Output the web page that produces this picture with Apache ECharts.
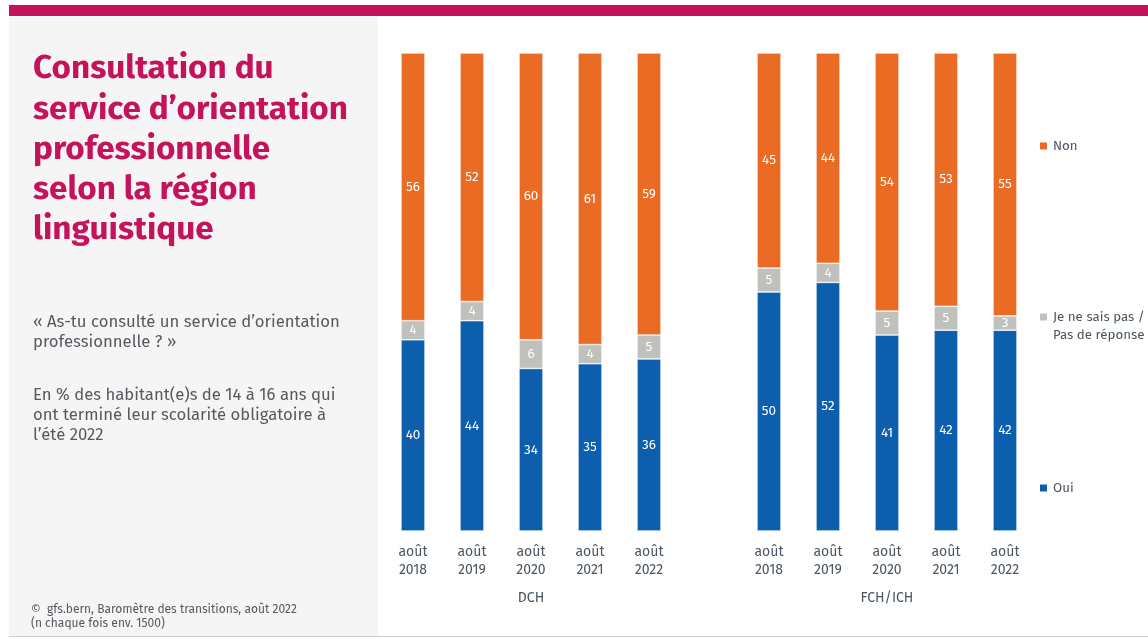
<!DOCTYPE html>
<html>
<head>
<meta charset="utf-8">
<script src="https://cdn.jsdelivr.net/npm/echarts@6/dist/echarts.min.js"></script>
<style>
html,body{margin:0;padding:0;background:#fff;}
#chart{width:1148px;height:639px;}
</style>
</head>
<body>
<div id="chart"></div>
<script>
// Survey years (category axis)
const years = ['août\n2018', 'août\n2019', 'août\n2020', 'août\n2021', 'août\n2022'];
const regions = ['DCH', 'FCH/ICH'];
const seriesNames = ['Oui', 'Je ne sais pas /\nPas de réponse', 'Non'];

// Shares in % per region, bottom to top
const dchOui = [40, 44, 34, 35, 36];
const dchNsp = [4, 4, 6, 4, 5];
const dchNon = [56, 52, 60, 61, 59];
const fchOui = [50, 52, 41, 42, 42];
const fchNsp = [5, 4, 5, 5, 3];
const fchNon = [45, 44, 54, 53, 55];

const colors = ['#0d5fae', '#c0c0bd', '#e96b24'];
const FONT = '"Fira Sans", "Noto Sans", sans-serif';
const textGrey = '#4b5661';

const chart = echarts.init(document.getElementById('chart'));

const grids = [
  { left: 383.5, top: 53, width: 295, height: 478 },
  { left: 739.5, top: 53, width: 295, height: 478 }
];

function xAxis(idx, name) {
  return {
    type: 'category', gridIndex: idx, data: years,
    name: name, nameLocation: 'middle', nameGap: 60,
    nameTextStyle: { color: textGrey, fontSize: 14, fontFamily: FONT },
    axisLine: { show: false }, axisTick: { show: false },
    axisLabel: { color: textGrey, fontSize: 14, fontFamily: FONT, lineHeight: 18, margin: 12 }
  };
}
function yAxis(idx) {
  return { type: 'value', gridIndex: idx, min: 0, max: 100, show: false };
}
function barSeries(name, data, idx, color) {
  return {
    name: name, type: 'bar', stack: 'r' + idx,
    xAxisIndex: idx, yAxisIndex: idx, data: data, barWidth: 24,
    itemStyle: { color: color, borderColor: '#ffffff', borderWidth: 0.6 },
    label: { show: true, position: 'inside', color: '#ffffff', fontSize: 13.5, fontFamily: FONT },
    emphasis: { disabled: true }
  };
}

// Square marker; for the two-line entry the icon box is made taller so the
// square sits beside the first line of text.
const SQUARE = 'path://M0 0H9V9H0Z';
const SQUARE_TOP = 'path://M0 0H9V9H0Z M0 26H0.001V27H0Z';

const legendItem = (name, top, icon, h) => ({
  data: [name], left: 1038, top: top, orient: 'vertical', padding: 0,
  icon: icon, itemWidth: 9, itemHeight: h, itemGap: 0,
  textStyle: { color: textGrey, fontSize: 13.3, fontFamily: FONT, lineHeight: 18 },
  selectedMode: false
});

chart.setOption({
  animation: false,
  color: colors,
  grid: grids,
  xAxis: [xAxis(0, regions[0]), xAxis(1, regions[1])],
  yAxis: [yAxis(0), yAxis(1)],
  legend: [
    legendItem(seriesNames[2], 137, SQUARE, 9),
    legendItem(seriesNames[1], 308, SQUARE_TOP, 27),
    legendItem(seriesNames[0], 479, SQUARE, 9)
  ],
  series: [
    barSeries(seriesNames[0], dchOui, 0, colors[0]),
    barSeries(seriesNames[1], dchNsp, 0, colors[1]),
    barSeries(seriesNames[2], dchNon, 0, colors[2]),
    barSeries(seriesNames[0], fchOui, 1, colors[0]),
    barSeries(seriesNames[1], fchNsp, 1, colors[1]),
    barSeries(seriesNames[2], fchNon, 1, colors[2])
  ],
  graphic: [
    { type: 'rect', left: 9, top: 17, shape: { width: 369, height: 619 }, style: { fill: '#f5f5f5' }, z: -10 },
    { type: 'rect', left: 9, top: 5, shape: { width: 1139, height: 11 }, style: { fill: '#c4125b' }, z: -5 },
    { type: 'rect', left: 9, top: 636, shape: { width: 1139, height: 1 }, style: { fill: '#cfcfcf' }, z: -5 },
    {
      type: 'text', left: 33, top: 49,
      style: {
        text: 'Consultation du\nservice d\u2019orientation\nprofessionnelle\nselon la région\nlinguistique',
        fill: '#c4125b', font: 'bold 33.3px ' + FONT, lineHeight: 40.2
      }
    },
    {
      type: 'text', left: 33, top: 312,
      style: {
        text: '« As-tu consulté un service d\u2019orientation\nprofessionnelle ? »',
        fill: '#555a60', font: '16.7px ' + FONT, lineHeight: 20
      }
    },
    {
      type: 'text', left: 33, top: 385,
      style: {
        text: 'En % des habitant(e)s de 14 à 16 ans qui\nont terminé leur scolarité obligatoire à\nl\u2019été 2022',
        fill: '#555a60', font: '16.7px ' + FONT, lineHeight: 20
      }
    },
    {
      type: 'text', left: 31, top: 603,
      style: {
        text: '©  gfs.bern, Baromètre des transitions, août 2022\n(n chaque fois env. 1500)',
        fill: '#555a60', font: '12px ' + FONT, lineHeight: 14
      }
    }
  ]
});
</script>
</body>
</html>
